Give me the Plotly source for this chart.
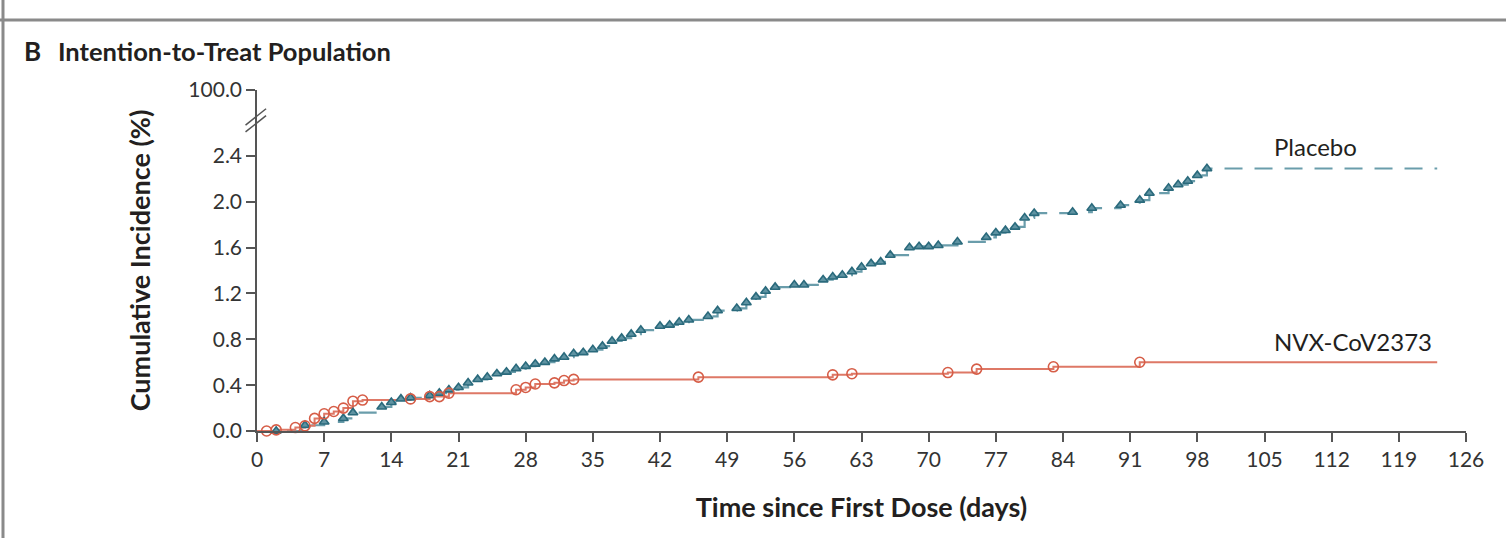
import plotly.graph_objects as go

# Cumulative incidence (%) by day since first dose
placebo_days = [2, 5, 7, 9, 10, 13, 14, 15, 16, 18, 19, 20, 21, 22, 23, 24, 25, 26, 27, 28,
                29, 30, 31, 32, 33, 34, 35, 36, 37, 38, 39, 40, 42, 43, 44, 45, 47, 48, 50, 51,
                52, 53, 54, 56, 57, 59, 60, 61, 62, 63, 64, 65, 66, 68, 69, 70, 71, 73, 76, 77,
                78, 79, 80, 81, 85, 87, 90, 92, 93, 95, 96, 97, 98, 99]
placebo_vals = [0.00, 0.05, 0.08, 0.11, 0.16, 0.21, 0.25, 0.28, 0.29, 0.31, 0.33, 0.36, 0.38, 0.42,
                0.45, 0.47, 0.50, 0.515, 0.545, 0.565, 0.585, 0.60, 0.63, 0.645, 0.675, 0.685,
                0.71, 0.74, 0.785, 0.81, 0.845, 0.88, 0.915, 0.925, 0.95, 0.97, 1.00, 1.05, 1.07,
                1.12, 1.17, 1.22, 1.255, 1.275, 1.275, 1.32, 1.345, 1.36, 1.39, 1.43, 1.46,
                1.475, 1.535, 1.60, 1.61, 1.61, 1.62, 1.65, 1.69, 1.73, 1.75, 1.78, 1.86, 1.90,
                1.91, 1.945, 1.97, 2.015, 2.075, 2.12, 2.15, 2.18, 2.23, 2.29]
placebo_end = 123

vaccine_days = [1, 2, 4, 5, 6, 7, 8, 9, 10, 11, 16, 18, 19, 20, 27, 28, 29, 31, 32, 33,
                46, 60, 62, 72, 75, 83, 92]
vaccine_vals = [0.00, 0.01, 0.03, 0.045, 0.11, 0.15, 0.17, 0.20, 0.26, 0.27, 0.28, 0.30, 0.30,
                0.33, 0.36, 0.38, 0.41, 0.42, 0.44, 0.45, 0.47, 0.49, 0.50, 0.51, 0.54, 0.56, 0.60]
vaccine_end = 123

x_ticks = list(range(0, 127, 7))
y_ticks = [0.0, 0.4, 0.8, 1.2, 1.6, 2.0, 2.4]
y_top = 2.975  # position of the 100.0 tick above the axis break
y_tick_text = [f"{v:.1f}" for v in y_ticks] + ["100.0"]

TEAL = "#2a6a7c"
TEAL_FILL = "#5f93a2"
TEAL_LINE = "#6a9dab"
RED = "#d65d47"
RED_LINE = "#de7866"
FONT = "Lato"
TXT = "#231f20"
TICK_TXT = "#333333"

fig = go.Figure()

# Step curves
fig.add_trace(go.Scatter(
    x=[0] + placebo_days + [placebo_end], y=[0] + placebo_vals + [placebo_vals[-1]],
    mode="lines", line=dict(color=TEAL_LINE, width=2.2, dash="18px,12px", shape="hv"),
    hoverinfo="skip", showlegend=False, cliponaxis=False))
fig.add_trace(go.Scatter(
    x=[0] + vaccine_days + [vaccine_end], y=[0] + vaccine_vals + [vaccine_vals[-1]],
    mode="lines", line=dict(color=RED_LINE, width=2, shape="hv"),
    hoverinfo="skip", showlegend=False, cliponaxis=False))

# Event markers
fig.add_trace(go.Scatter(
    x=placebo_days, y=placebo_vals, mode="markers", name="Placebo",
    marker=dict(symbol="triangle-up", size=8.5, color=TEAL_FILL,
                line=dict(color=TEAL, width=1.6)),
    showlegend=False, cliponaxis=False))
fig.add_trace(go.Scatter(
    x=vaccine_days, y=vaccine_vals, mode="markers", name="NVX-CoV2373",
    marker=dict(symbol="circle-open", size=10, color=RED, line=dict(width=1.6)),
    showlegend=False, cliponaxis=False))

fig.update_layout(
    width=1506, height=538,
    margin=dict(l=257, r=40, t=90, b=107),
    paper_bgcolor="white", plot_bgcolor="white",
    font=dict(family=FONT, color=TXT, size=21),
    xaxis=dict(
        range=[0, 126], tickvals=x_ticks, ticktext=[str(t) for t in x_ticks],
        showgrid=False, zeroline=False, showline=True, linecolor="#555", linewidth=1.5,
        ticks="outside", ticklen=9, tickwidth=1.5, tickcolor="#555",
        tickfont=dict(family=FONT, size=21, color=TICK_TXT),
        title=dict(text="<b>Time since First Dose (days)</b>",
                   font=dict(family=FONT, size=27, color=TXT), standoff=28),
    ),
    yaxis=dict(
        range=[0, y_top], tickvals=y_ticks + [y_top], ticktext=y_tick_text,
        showgrid=False, zeroline=False, showline=True, linecolor="#555", linewidth=1.5,
        ticks="outside", ticklen=9, tickwidth=1.5, tickcolor="#555",
        tickfont=dict(family=FONT, size=21, color=TICK_TXT),
        title=dict(text="<b>Cumulative Incidence (%)</b>",
                   font=dict(family=FONT, size=27, color=TXT), standoff=30),
    ),
)

# Axis break marks
for dy in (0.0, 0.02):
    fig.add_shape(type="line", xref="paper", yref="paper",
                  x0=-0.0095, y0=0.877 + dy, x1=0.0075, y1=0.925 + dy,
                  line=dict(color="#555", width=1.5))

# Panel frame lines
fig.add_shape(type="line", xref="paper", yref="paper", x0=-0.2126, x1=1.05, y0=1.2053, y1=1.2053,
              line=dict(color="#8a8a8a", width=3))
fig.add_shape(type="line", xref="paper", yref="paper", x0=-0.2101, x1=-0.2101, y0=-0.32, y1=1.3,
              line=dict(color="#8a8a8a", width=3))

# Panel heading
fig.add_annotation(text="<b>B</b>", xref="paper", yref="paper", x=-0.1944, y=1.1148,
                   xanchor="left", yanchor="middle", showarrow=False,
                   font=dict(family=FONT, size=26, color=TXT))
fig.add_annotation(text="<b>Intention-to-Treat Population</b>", xref="paper", yref="paper",
                   x=-0.1664, y=1.1148, xanchor="left", yanchor="middle", showarrow=False,
                   font=dict(family=FONT, size=25.5, color=TXT))

# Direct series labels
fig.add_annotation(text="Placebo", x=105.8, y=2.48, xanchor="left", yanchor="middle",
                   showarrow=False, font=dict(family=FONT, size=24, color=TXT))
fig.add_annotation(text="NVX-CoV2373", x=105.8, y=0.78, xanchor="left", yanchor="middle",
                   showarrow=False, font=dict(family=FONT, size=24, color=TXT))

fig.write_html("out.html")
